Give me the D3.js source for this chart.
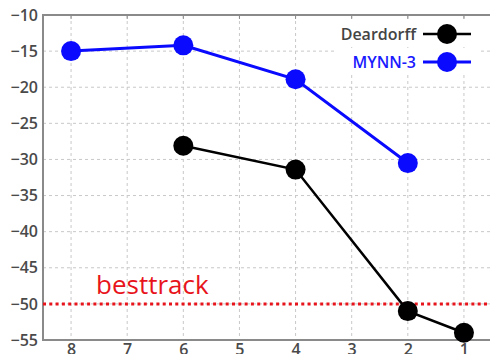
<!DOCTYPE html>
<html>
<head>
<meta charset="utf-8">
<script src="https://cdn.jsdelivr.net/npm/d3@7"></script>
<style>
  body { margin: 0; background: #fff; }
  svg { display: block; }
</style>
</head>
<body>
<div id="chart"></div>
<script>
// Data
const xTicks = [8, 7, 6, 5, 4, 3, 2, 1];
const yTicks = [-10, -15, -20, -25, -30, -35, -40, -45, -50, -55];
const deardorffX = [6, 4, 2, 1];
const deardorffY = [-28.1, -31.4, -51.0, -54.0];
const mynnX = [8, 6, 4, 2];
const mynnY = [-15.0, -14.2, -18.9, -30.5];
const besttrack = -50;

// Chart dimensions
const W = 490, H = 354;
const margin = { top: 15, right: -2, bottom: 14, left: 43 };

const svg = d3.select("#chart")
    .append("svg")
    .attr("width", W)
    .attr("height", H);

const x = d3.scaleLinear().domain([8.5, 0.5]).range([margin.left, W - margin.right]);
const y = d3.scaleLinear().domain([-10, -55]).range([margin.top, H - margin.bottom]);

const font = "'Open Sans', 'Liberation Sans', sans-serif";

// Grid lines
svg.append("g")
    .selectAll("line")
    .data(yTicks.slice(1, -1))
    .join("line")
    .attr("x1", margin.left).attr("x2", W)
    .attr("y1", d => y(d)).attr("y2", d => y(d))
    .attr("stroke", "#c8c8c8").attr("stroke-width", 1)
    .attr("stroke-dasharray", "3,3");

svg.append("g")
    .selectAll("line")
    .data(xTicks)
    .join("line")
    .attr("x1", d => x(d)).attr("x2", d => x(d))
    .attr("y1", y(-10)).attr("y2", y(-55))
    .attr("stroke", "#c8c8c8").attr("stroke-width", 1)
    .attr("stroke-dasharray", "3,3");

// Axes
const yAxis = d3.axisLeft(y).tickValues(yTicks).tickSize(0).tickPadding(5);
const gy = svg.append("g")
    .attr("transform", `translate(${margin.left},0)`)
    .call(yAxis);

const xAxis = d3.axisBottom(x).tickValues(xTicks).tickSize(0).tickPadding(4);
const gx = svg.append("g")
    .attr("transform", `translate(0,${y(-55)})`)
    .call(xAxis);

[gx, gy].forEach(g => {
    g.select(".domain").remove();
    g.selectAll("text")
        .attr("fill", "#4a4a4a")
        .style("font-family", font)
        .style("font-weight", "600")
        .style("font-size", "16px");
});

// Frame (left, bottom, top)
svg.append("path")
    .attr("d", `M${W},${y(-10)}H${margin.left}V${y(-55)}H${W}`)
    .attr("fill", "none")
    .attr("stroke", "#8a8a8a")
    .attr("stroke-width", 2);

// Small ticks along the top
svg.append("g")
    .selectAll("line")
    .data(xTicks)
    .join("line")
    .attr("x1", d => x(d)).attr("x2", d => x(d))
    .attr("y1", y(-10)).attr("y2", y(-10) + 4)
    .attr("stroke", "#8a8a8a").attr("stroke-width", 1);

// Besttrack line
svg.append("line")
    .attr("x1", margin.left).attr("x2", W)
    .attr("y1", y(besttrack)).attr("y2", y(besttrack))
    .attr("stroke", "#e8141c").attr("stroke-width", 3)
    .attr("stroke-dasharray", "3,3.3");

svg.append("text")
    .attr("x", 96).attr("y", y(besttrack) - 10)
    .attr("fill", "#e8141c")
    .style("font-family", font)
    .style("font-size", "26px")
    .text("besttrack");

// Series
const series = [
    { name: "Deardorff", xs: deardorffX, ys: deardorffY, color: "#000", text: "#444", width: 2.5 },
    { name: "MYNN-3", xs: mynnX, ys: mynnY, color: "#0a0aff", text: "#1a1aff", width: 3 }
];

const line = d3.line().x(d => x(d[0])).y(d => y(d[1]));

series.forEach(s => {
    const pts = s.xs.map((v, i) => [v, s.ys[i]]);
    svg.append("path")
        .datum(pts)
        .attr("d", line)
        .attr("fill", "none")
        .attr("stroke", s.color)
        .attr("stroke-width", s.width);
    svg.append("g")
        .selectAll("circle")
        .data(pts)
        .join("circle")
        .attr("cx", d => x(d[0]))
        .attr("cy", d => y(d[1]))
        .attr("r", 10)
        .attr("fill", s.color);
});

// Legend
const legend = svg.append("g");
series.forEach((s, i) => {
    const ly = 34 + i * 28;
    legend.append("rect")
        .attr("x", 336).attr("y", ly - 13)
        .attr("width", 144).attr("height", 26)
        .attr("fill", "#fff");
    legend.append("text")
        .attr("x", 416).attr("y", ly)
        .attr("dy", "0.35em")
        .attr("text-anchor", "end")
        .attr("fill", s.text)
        .style("font-family", font)
        .style("font-weight", "600")
        .style("font-size", "16px")
        .text(s.name);
    legend.append("line")
        .attr("x1", 423).attr("x2", 471)
        .attr("y1", ly).attr("y2", ly)
        .attr("stroke", s.color).attr("stroke-width", s.width);
    legend.append("circle")
        .attr("cx", 447).attr("cy", ly)
        .attr("r", 10)
        .attr("fill", s.color);
});
</script>
</body>
</html>
